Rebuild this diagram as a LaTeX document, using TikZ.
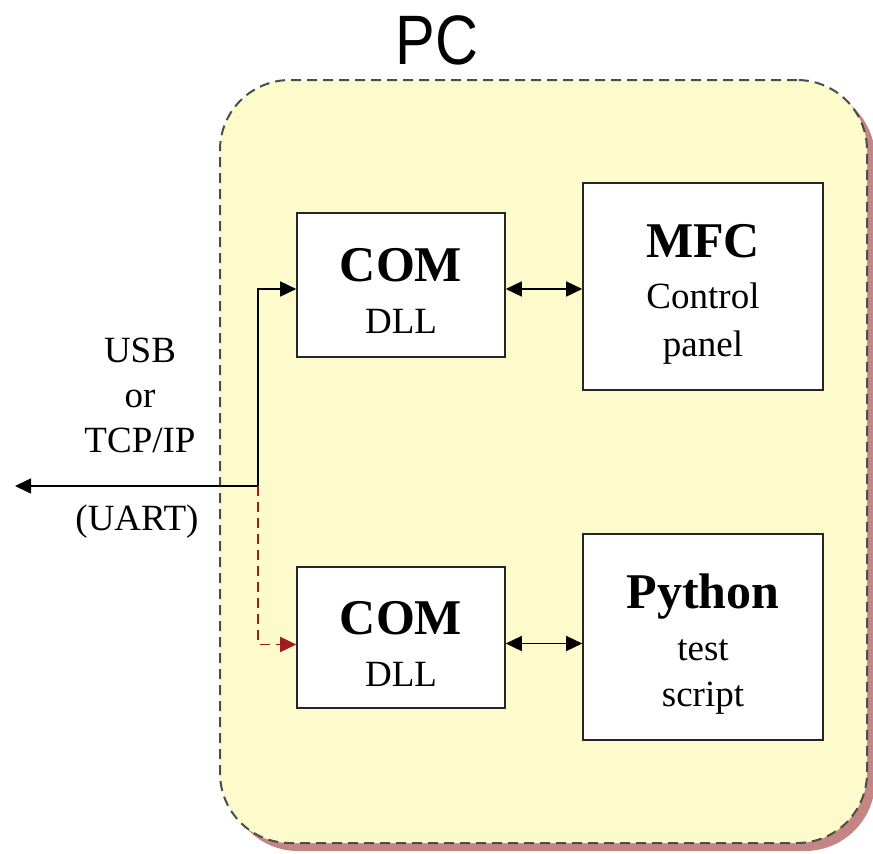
\documentclass[tikz,border=0pt]{standalone}
\usepackage{fontspec}
\setmainfont{Liberation Serif}
\newfontfamily\pcfont{Liberation Sans}
\usetikzlibrary{arrows.meta,shadows}

\definecolor{pcyellow}{HTML}{FDFACB}
\definecolor{pcshadow}{HTML}{C48585}
\definecolor{linkred}{HTML}{9E1C1C}

\newcommand{\boxtitle}[1]{{\fontsize{50}{50}\selectfont\bfseries #1}}

\begin{document}
\begin{tikzpicture}[x=1pt, y=-1pt,
    container/.style={draw=black!70, dash pattern=on 10pt off 6pt, line width=2pt, fill=pcyellow,
        rounded corners=70pt, minimum width=647pt, minimum height=763pt,
        drop shadow={shadow xshift=8pt, shadow yshift=-8pt, fill=pcshadow, opacity=1}},
    box/.style={draw=black!85, line width=1.6pt, fill=white, inner sep=0pt},
    boxtext/.style={align=center, inner sep=0pt, font=\fontsize{37}{46}\selectfont},
    bigtxt/.style={font=\fontsize{37}{45}\selectfont},
    arr/.style={-{Triangle[length=16pt, width=15pt]}, line width=1.6pt},
    darr/.style={{Triangle[length=16pt, width=15pt]}-{Triangle[length=16pt, width=15pt]}, line width=1.6pt}]
  \useasboundingbox (0,0) rectangle (873,854);

  \node [container] (pc) at (543.5,461.5) {};
  \node [font=\pcfont\fontsize{70}{70}\selectfont] (pclabel) at (437,40) {\scalebox{0.85}[1]{PC}};

  % boxes
  \node [box, minimum width=208pt, minimum height=144pt] (comA) at (401,285) {};
  \node [box, minimum width=240pt, minimum height=207pt] (mfc) at (703,286.5) {};
  \node [box, minimum width=208pt, minimum height=141pt] (comB) at (401,637.5) {};
  \node [box, minimum width=240pt, minimum height=206pt] (py) at (703,637) {};

  \node [boxtext] (comAtxt) at ([yshift=-6pt]comA.center) {\boxtitle{COM}\\[6pt]DLL};
  \node [boxtext] (mfctxt) at ([yshift=-8pt]mfc.center) {\boxtitle{MFC}\\[5pt]Control\\[2pt]panel};
  \node [boxtext] (comBtxt) at ([yshift=-6pt]comB.center) {\boxtitle{COM}\\[6pt]DLL};
  \node [boxtext] (pytxt) at ([yshift=-7pt]py.center) {\boxtitle{Python}\\[6pt]test\\script};

  % link
  \coordinate (j) at (258,486);
  \coordinate (ext) at (15,486);
  \node [bigtxt, align=center] (usb) at (140,395) {USB\\or\\TCP/IP};
  \node [bigtxt] (uart) at (137,522) {(UART)};

  \draw [arr] (j) -- (ext);
  \draw [arr] (j) |- ([yshift=-4pt]comA.west);
  \draw [arr, linkred, dash pattern=on 10pt off 6pt] (j) |- ([yshift=-7pt]comB.west);
  \draw [darr] ([yshift=-4pt]comA.east) -- ([yshift=-4pt]comA.east -| mfc.west);
  \draw [darr] ([yshift=-6pt]comB.east) -- ([yshift=-6pt]comB.east -| py.west);
\end{tikzpicture}
\end{document}
